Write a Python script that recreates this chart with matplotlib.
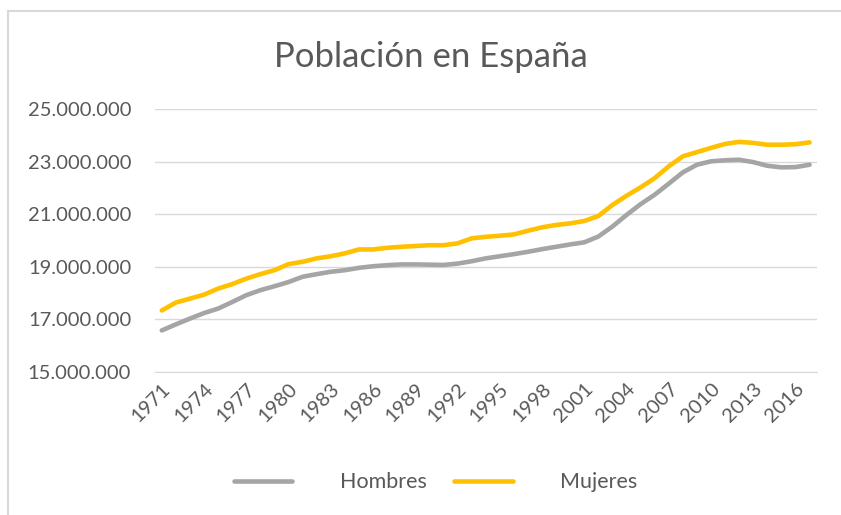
import matplotlib.pyplot as plt
from matplotlib.lines import Line2D
from matplotlib.ticker import FuncFormatter

plt.rcParams['font.family'] = ['Lato', 'DejaVu Sans']

years = list(range(1971, 2018))

# population in millions
hombres = [16.58, 16.81, 17.03, 17.24, 17.41, 17.66, 17.92, 18.11, 18.26, 18.42,
           18.62, 18.72, 18.81, 18.87, 18.96, 19.02, 19.06, 19.09, 19.09, 19.08,
           19.07, 19.12, 19.21, 19.32, 19.40, 19.48, 19.57, 19.67, 19.76, 19.85,
           19.93, 20.15, 20.53, 20.97, 21.38, 21.74, 22.16, 22.59, 22.88, 23.01,
           23.05, 23.07, 22.98, 22.84, 22.78, 22.79, 22.88]
mujeres = [17.34, 17.64, 17.79, 17.94, 18.17, 18.34, 18.55, 18.72, 18.87, 19.10,
           19.19, 19.32, 19.40, 19.51, 19.66, 19.66, 19.72, 19.76, 19.79, 19.82,
           19.82, 19.89, 20.08, 20.14, 20.18, 20.23, 20.37, 20.50, 20.59, 20.65,
           20.74, 20.93, 21.35, 21.70, 22.02, 22.37, 22.82, 23.20, 23.36, 23.52,
           23.67, 23.75, 23.71, 23.64, 23.64, 23.66, 23.73]

hombres = [v * 1e6 for v in hombres]
mujeres = [v * 1e6 for v in mujeres]

fig = plt.figure(figsize=(8.41, 5.15), dpi=100)
ax = fig.add_axes([0.184, 0.2777, 0.787, 0.5107])

x = range(len(years))
ax.plot(x, hombres, color='#A5A5A5', lw=3.3, label='Hombres', solid_capstyle='round')
ax.plot(x, mujeres, color='#FFC000', lw=3.3, label='Mujeres', solid_capstyle='round')

ax.set_xlim(-0.5, len(years) - 0.5)
ax.set_ylim(15e6, 25e6)
ax.set_yticks([15e6, 17e6, 19e6, 21e6, 23e6, 25e6])
ax.yaxis.set_major_formatter(FuncFormatter(lambda v, p: f'{int(v):,}'.replace(',', '.')))
ax.grid(axis='y', color='#D9D9D9', lw=1)
ax.set_axisbelow(True)

ticks = list(range(0, len(years), 3))
ax.set_xticks(ticks)
ax.set_xticklabels([str(years[i]) for i in ticks], rotation=45, ha='right',
                   va='top', rotation_mode='anchor')

for s in ['top', 'right', 'left']:
    ax.spines[s].set_visible(False)
ax.spines['bottom'].set_color('#D9D9D9')
ax.tick_params(axis='both', length=0, labelsize=14.5, colors='#595959')
ax.tick_params(axis='y', pad=17)
ax.tick_params(axis='x', pad=6)

fig.text(0.512, 0.89, 'Población en España', ha='center', va='center',
         fontsize=25, color='#595959')

fig.legend(loc='center', bbox_to_anchor=(0.518, 0.064), ncol=2, frameon=False,
           fontsize=15.5, labelcolor='#595959', handlelength=2.7,
           handletextpad=2.2, columnspacing=1.3)

# chart frame only shows on the top and left edges
fig.lines.append(Line2D([0.009, 1.0], [0.979, 0.979], transform=fig.transFigure,
                        color='#D9D9D9', lw=1.5))
fig.lines.append(Line2D([0.009, 0.009], [0.0, 0.979], transform=fig.transFigure,
                        color='#D9D9D9', lw=1.5))

plt.savefig('out.png', dpi=100)
